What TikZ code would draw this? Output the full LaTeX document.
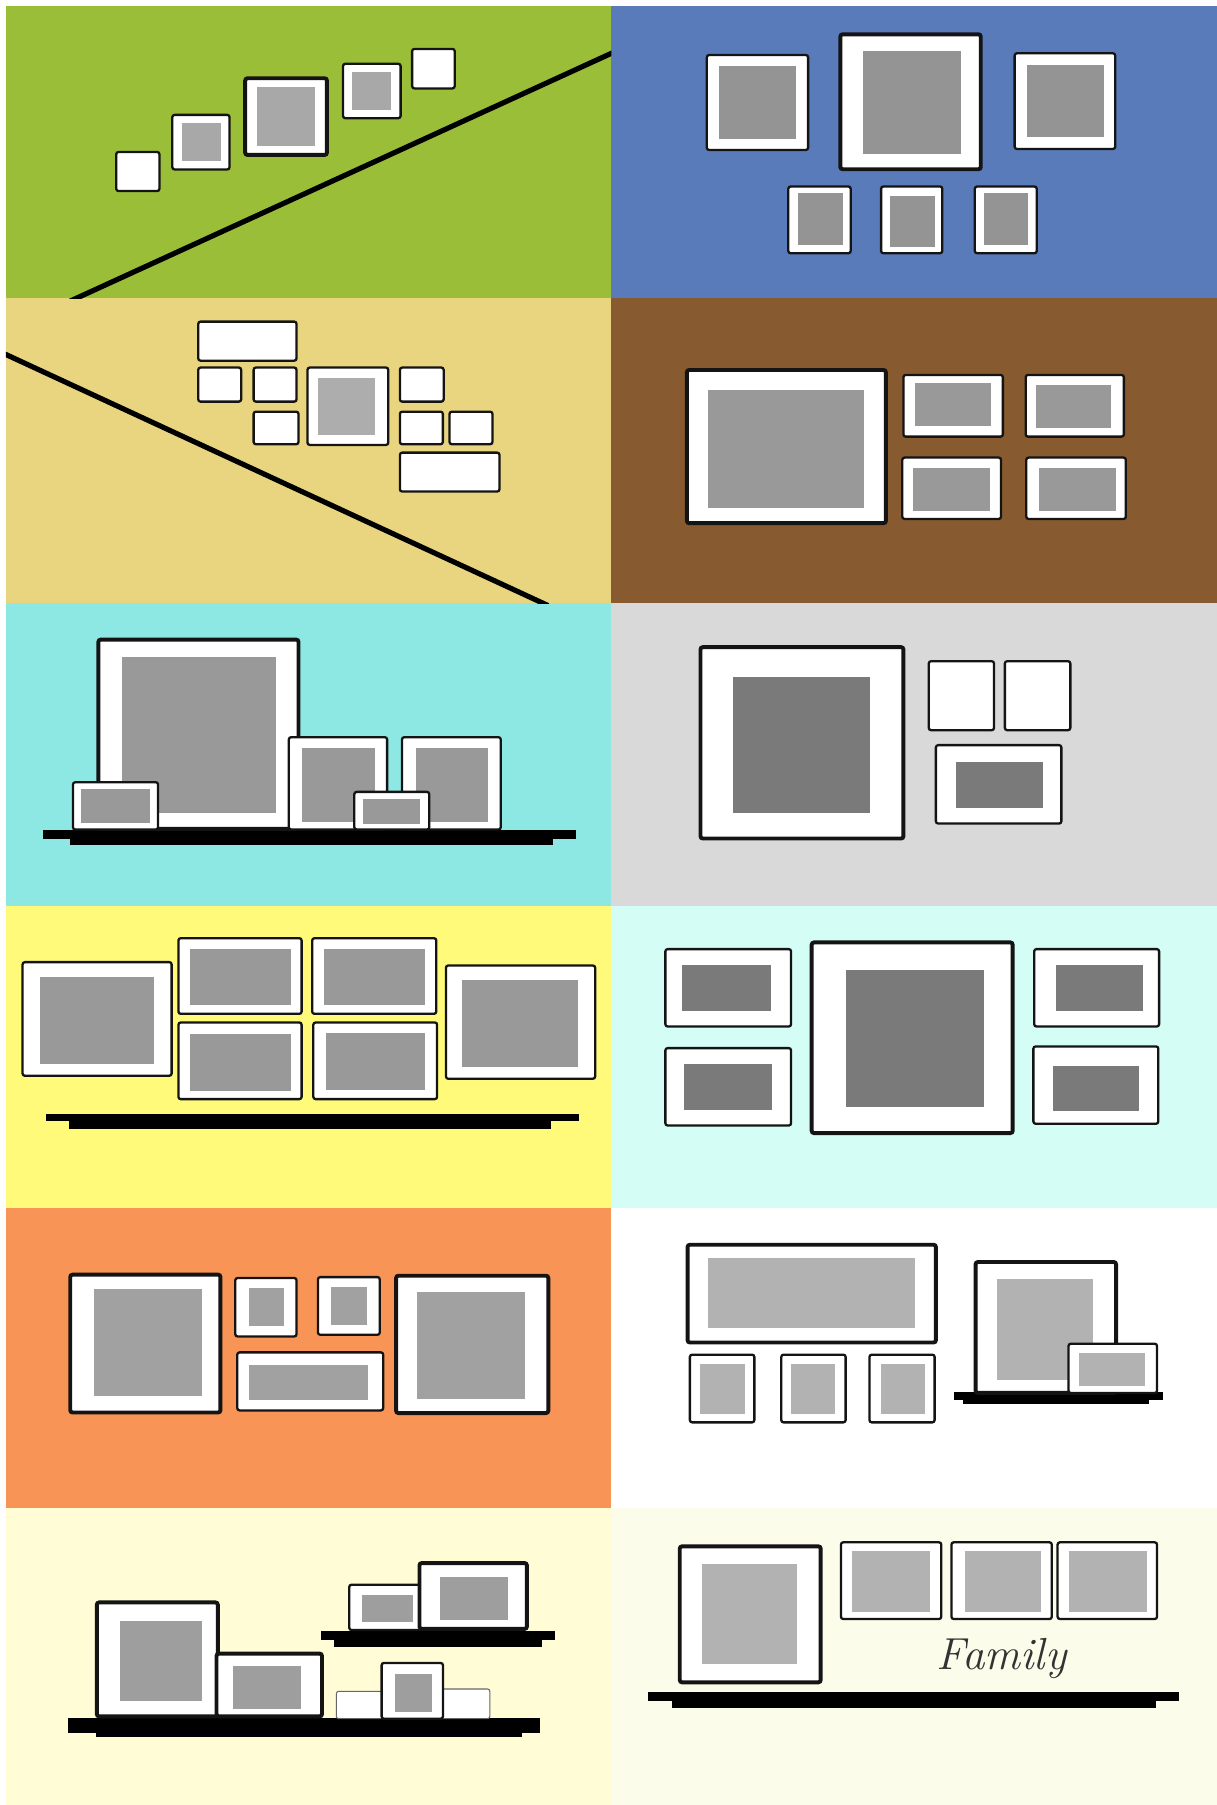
\documentclass[tikz,border=0pt]{standalone}
\begin{document}
\definecolor{pgreen}{RGB}{155,190,56}
\definecolor{pblue}{RGB}{90,123,186}
\definecolor{ptan}{RGB}{233,213,128}
\definecolor{pbrown}{RGB}{135,91,47}
\definecolor{pcyan}{RGB}{141,232,227}
\definecolor{pgray}{RGB}{217,217,217}
\definecolor{pyellow}{RGB}{255,250,121}
\definecolor{plcyan}{RGB}{211,253,245}
\definecolor{porange}{RGB}{248,149,86}
\definecolor{pwhite}{RGB}{255,255,255}
\definecolor{pcream}{RGB}{255,252,214}
\definecolor{ppale}{RGB}{252,252,234}
\definecolor{ink}{RGB}{20,20,20}
\newcommand{\fr}[3][]{\draw[frm,#1] (#2) rectangle (#3);}
\newcommand{\mt}[2]{\fill[matgray] (#1) rectangle (#2);}
\begin{tikzpicture}[x=1pt,y=-1pt,
  frm/.style={fill=white,draw=ink,line width=2pt,rounded corners=2pt},
  big/.style={line width=3.4pt},
  faint/.style={line width=0.9pt,draw=black!60},
  shelf/.style={fill=black},
  wallline/.style={draw=black,line width=4.5pt}]
\useasboundingbox (0,0) rectangle (1057,1568);
\fill[white] (0,0) rectangle (1057,1568);
% panel backgrounds
\fill[pgreen]  (5,5)     rectangle (531,259);
\fill[pblue]   (531,5)   rectangle (1057,259);
\fill[ptan]    (5,259)   rectangle (531,524);
\fill[pbrown]  (531,259) rectangle (1057,524);
\fill[pcyan]   (5,524)   rectangle (531,787);
\fill[pgray]   (531,524) rectangle (1057,787);
\fill[pyellow] (5,787)   rectangle (531,1049);
\fill[plcyan]  (531,787) rectangle (1057,1049);
\fill[porange] (5,1049)  rectangle (531,1310);
\fill[pwhite]  (531,1049) rectangle (1057,1310);
\fill[pcream]  (5,1310)  rectangle (531,1568);
\fill[ppale]   (531,1310) rectangle (1057,1568);

% ---------- panel 1 (green) ----------
\begin{scope}
\clip (5,5) rectangle (531,259);
\draw[wallline] (60,262) -- (534,45);
\end{scope}
\begin{scope}
\colorlet{matgray}{black!34}
\fr{101,132}{138.5,166}
\fr{149.7,99.8}{199.4,147.2} \mt{158,107}{192,139.5}
\fr[big]{213,68}{284,134.6} \mt{223,76}{274,126.5}
\fr{298,55.4}{348,102.7} \mt{306,62.7}{340,95.4}
\fr{358,42.5}{395,76.8}
\end{scope}

% ---------- panel 2 (blue) ----------
\begin{scope}
\colorlet{matgray}{black!42}
\fr{614,47.8}{702,130.3} \mt{624.8,57}{691.6,120.7}
\fr[big]{730,29.8}{852,147} \mt{750,44.3}{834.6,134}
\fr{881.4,46.3}{968.8,129.4} \mt{892.2,56.5}{958.7,119.3}
\fr{684.8,162}{739,220} \mt{693.3,168}{732,212.8}
\fr{765.4,162}{818.6,220} \mt{773,170.2}{811.9,214.2}
\fr{846.8,162}{900.6,220} \mt{855,168}{893.3,212.8}
\end{scope}

% ---------- panel 3 (tan) ----------
\begin{scope}
\clip (5,259) rectangle (531,524);
\draw[wallline] (2,306.5) -- (476,526);
\end{scope}
\begin{scope}
\colorlet{matgray}{black!32}
\fr{172.2,279.4}{257.6,313.3}
\fr{172.2,319.3}{209.5,348.9}
\fr{220.3,319.3}{257.6,348.9}
\fr{267.1,319.3}{337.3,386.5} \mt{276.2,328.6}{326.1,377.8}
\fr{347.4,319.3}{385.4,348.9}
\fr{220.3,357.6}{259.3,385.9}
\fr{347.4,357.6}{384.7,385.9}
\fr{390.5,357.6}{427.8,385.9}
\fr{347.4,393.2}{433.9,427}
\end{scope}

% ---------- panel 4 (brown) ----------
\begin{scope}
\colorlet{matgray}{black!40}
\fr[big]{596.7,321.4}{769.5,454.5} \mt{615.3,338.7}{750.9,441.5}
\fr{784.8,325.7}{871.2,379.3} \mt{795,333}{861,369.7}
\fr{891,325.7}{976.3,379.3} \mt{900,334.4}{965.4,371.4}
\fr{783.8,397.5}{869.6,450.8} \mt{793.3,406.7}{860.3,443.8}
\fr{891.5,397.5}{978,450.8} \mt{902.7,406.7}{969.5,443.8}
\end{scope}

% ---------- panel 5 (cyan) ----------
\begin{scope}
\colorlet{matgray}{black!40}
\fill[shelf] (37.3,721.4) rectangle (500,728.4);
\fill[shelf] (61,728) rectangle (480.7,734.2);
\fr[big]{85.5,555.6}{259.3,720} \mt{106.1,570.9}{239.4,706.1}
\fr{250.9,640.4}{336.3,720.6} \mt{262,650.2}{325.4,714}
\fr{349.2,640.4}{435,720.6} \mt{361,650.2}{423.8,714}
\fr{63.4,679.5}{137.3,720.6} \mt{70.5,685.8}{130.5,715}
\fr{307.8,687.9}{372.9,720.6} \mt{315.3,694.5}{365.1,716}
\end{scope}

% ---------- panel 6 (gray) ----------
\begin{scope}
\colorlet{matgray}{black!52}
\fr[big]{608.5,562.2}{784.8,728.4} \mt{636.6,588}{756,706.1}
\fr{806.8,574.4}{863.5,634.3}
\fr{872.9,574.4}{929.8,634.3}
\fr{813,647.3}{922,715.4} \mt{830.6,661.8}{905.9,701.8}
\end{scope}

% ---------- panel 7 (yellow) ----------
\begin{scope}
\colorlet{matgray}{black!40}
\fill[shelf] (40,967.5) rectangle (502.7,974.2);
\fill[shelf] (60.3,974) rectangle (479,980.8);
\fr{19.6,835.8}{149.1,934.5} \mt{34.9,848.8}{133.9,924.1}
\fr{155,815}{262,880.7} \mt{165,824.2}{252.6,872.8}
\fr{271.2,815}{379,880.7} \mt{281.4,824.2}{368.8,872.8}
\fr{155,888.2}{262,954.8} \mt{165,898}{252.6,947.6}
\fr{272.2,888.2}{379.7,954.8} \mt{283,897.5}{369.5,946.7}
\fr{387.4,838.7}{517,937.1} \mt{401,851.7}{501.7,927.3}
\end{scope}

% ---------- panel 8 (light cyan) ----------
\begin{scope}
\colorlet{matgray}{black!52}
\fr{578,824.5}{687.2,891.7} \mt{592.6,838.7}{669.5,878.6}
\fr{578,910.5}{687.2,977.7} \mt{594.2,924.1}{670.5,964}
\fr[big]{705.1,818.7}{879.7,984.3} \mt{735,843}{855,961.7}
\fr{898.4,824.5}{1006.9,891.7} \mt{917,838.7}{992.6,878.6}
\fr{897.7,909}{1006.2,976.2} \mt{914.6,925.8}{989.8,965.5}
\end{scope}

% ---------- panel 9 (orange) ----------
\begin{scope}
\colorlet{matgray}{black!37}
\fr[big]{61,1107.3}{191.5,1227} \mt{81.4,1119.5}{175.6,1212.4}
\fr{204.4,1110.2}{257.6,1161} \mt{216,1118.9}{246.8,1151.6}
\fr{276.2,1109.4}{329.9,1159.5} \mt{287.5,1118}{318.7,1150.8}
\fr{206.1,1174.8}{332.9,1225.2} \mt{216,1185.5}{319.3,1215.9}
\fr[big]{344.1,1108.2}{476.3,1227.5} \mt{362.1,1122.7}{456,1215.3}
\end{scope}

% ---------- panel 10 (white) ----------
\begin{scope}
\colorlet{matgray}{black!30}
\fr[big]{597.3,1081.3}{813,1166.2} \mt{615.3,1092.9}{795,1153.7}
\fr{599.3,1176.8}{655.3,1235.6} \mt{608.5,1184.7}{646.8,1228}
\fr{678.7,1176.8}{734.6,1235.6} \mt{687.2,1184.7}{725.5,1228}
\fr{755.3,1176.8}{811.9,1235.6} \mt{765.2,1184.7}{803.4,1228}
\fill[shelf] (828.8,1209.6) rectangle (1010.3,1216);
\fill[shelf] (836.6,1215.8) rectangle (998.4,1219.4);
\fr[big]{847.5,1096.3}{969.5,1210} \mt{866.2,1111.1}{949.3,1198.6}
\fr{928.2,1167.3}{1005.1,1210.1} \mt{937.3,1175.4}{995,1203.8}
\end{scope}

% ---------- panel 11 (cream) ----------
\begin{scope}
\colorlet{matgray}{black!38}
\fill[shelf] (59.3,1492.4) rectangle (469.5,1505.4);
\fill[shelf] (83,1505) rectangle (453.5,1508.9);
\fr[big]{84.1,1392}{189.2,1491} \mt{104.4,1408.4}{175.6,1478}
\fr[big]{188.1,1436.5}{279.7,1491} \mt{202.4,1447.5}{261.7,1484.5}
\fr[faint]{292.2,1469.2}{337.3,1493}
\fr[faint]{379.7,1467.2}{425.5,1493}
\fr{331.5,1444.6}{384.8,1493} \mt{343.4,1453.9}{375.6,1487.2}
\fill[shelf] (278.6,1417.1) rectangle (482,1425);
\fill[shelf] (289.8,1424.8) rectangle (470.5,1430.7);
\fr{303.4,1376.6}{368.8,1416} \mt{314.6,1385.9}{358.7,1409.3}
\fr[big]{364.4,1357.8}{457.7,1415} \mt{382,1370}{441.7,1407}
\end{scope}

% ---------- panel 12 (pale) ----------
\begin{scope}
\colorlet{matgray}{black!30}
\fr[big]{590.5,1343.3}{712.9,1461.4} \mt{609.5,1358.4}{692.2,1445.5}
\fr{730.5,1339.8}{817.7,1406.4} \mt{739.7,1347.6}{807.5,1400.6}
\fr{826.5,1339.8}{913.7,1406.4} \mt{838,1347.6}{904.5,1400.6}
\fr{918.7,1339.8}{1005.1,1406.4} \mt{928.9,1347.6}{996.6,1400.6}
\fill[shelf] (562.8,1470.1) rectangle (1024.4,1477.3);
\fill[shelf] (583.7,1477) rectangle (1004,1483.7);
\node[text=black!80,font=\fontsize{39}{44}\selectfont\itshape] (family) at (870,1441) {Family};
\end{scope}
\end{tikzpicture}
\end{document}
